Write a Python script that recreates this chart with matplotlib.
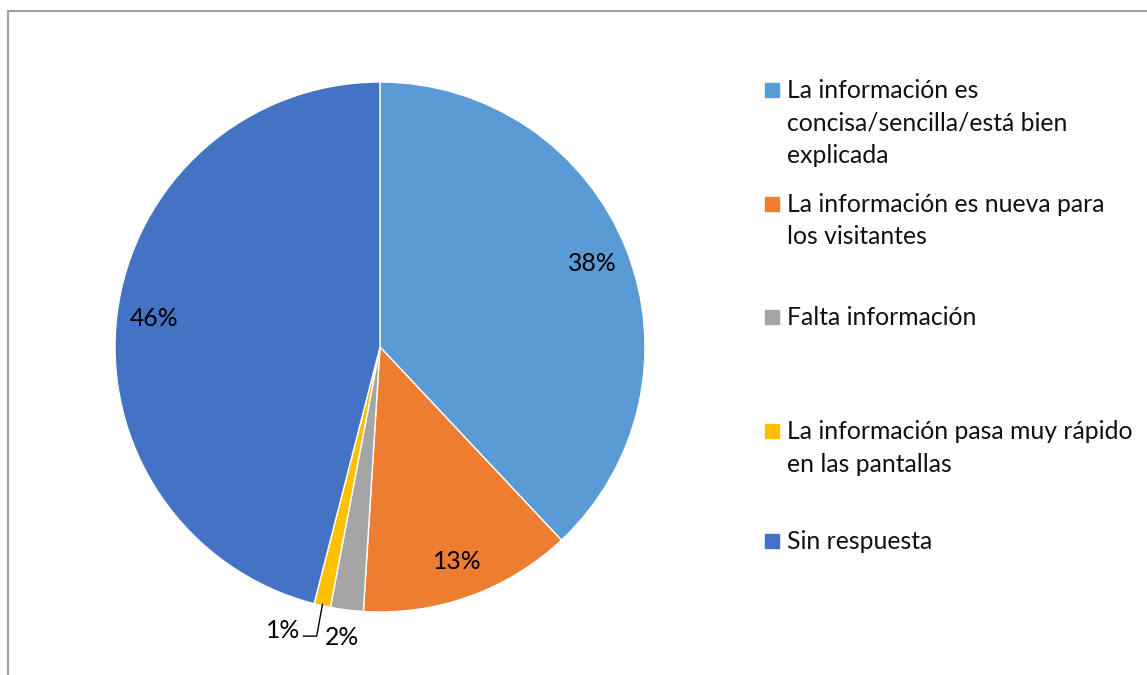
import matplotlib.pyplot as plt
import matplotlib.patches as mpatches
import numpy as np

categorias = ["La información es\nconcisa/sencilla/está bien\nexplicada",
              "La información es nueva para\nlos visitantes",
              "Falta información",
              "La información pasa muy rápido\nen las pantallas",
              "Sin respuesta"]
valores = [38, 13, 2, 1, 46]
colores = ["#5B9BD5", "#ED7D31", "#A5A5A5", "#FFC000", "#4472C4"]

plt.rcParams['font.family'] = ['Lato', 'DejaVu Sans']
W, H = 1147, 675
fig = plt.figure(figsize=(W / 100, H / 100), dpi=100)

# marco del grafico (cortado a la derecha y abajo)
fig.patches.append(mpatches.Rectangle((8 / W, -0.1), 1.2, 1.1 - 11 / H,
                                      transform=fig.transFigure, fill=False,
                                      edgecolor="#A0A0A0", linewidth=1.5))

cx, cy, r = 380, 347, 265
ax = fig.add_axes([(cx - r) / W, (H - cy - r) / H, 2 * r / W, 2 * r / H])
wedges, _ = ax.pie(valores, colors=colores, startangle=90, counterclock=False,
                   radius=1, wedgeprops=dict(edgecolor="white", linewidth=1))
ax.set_xlim(-1, 1)
ax.set_ylim(-1, 1)
ax.set_aspect("equal")
ax.axis("off")

fs = 17.8
for i, w in enumerate(wedges):
    ang = np.deg2rad((w.theta1 + w.theta2) / 2)
    txt = "{}%".format(valores[i])
    if valores[i] >= 5:
        d = 0.86
        ax.text(d * np.cos(ang), d * np.sin(ang), txt, ha="center", va="center", fontsize=fs)
    elif valores[i] == 2:
        ax.text(-0.143, -1.095, txt, ha="center", va="center", fontsize=fs)
    else:
        ex, ey = 0.995 * np.cos(ang), 0.995 * np.sin(ang)
        ax.plot([ex, -0.239, -0.289], [ey, -1.091, -1.091], color="black",
                linewidth=1, clip_on=False)
        ax.text(-0.30, -1.07, txt, ha="right", va="center", fontsize=fs)

# leyenda manual
ys = [90, 204, 317, 431, 541]
for y, lab, col in zip(ys, categorias, colores):
    fig.patches.append(mpatches.Rectangle((765 / W, (H - y - 7) / H), 14 / W, 14 / H,
                                          transform=fig.transFigure, color=col))
    fig.text(787 / W, (H - y + 11) / H, lab, fontsize=fs, va="top", ha="left",
             linespacing=1.5, color="#111111")

fig.savefig("out.png", dpi=100)
